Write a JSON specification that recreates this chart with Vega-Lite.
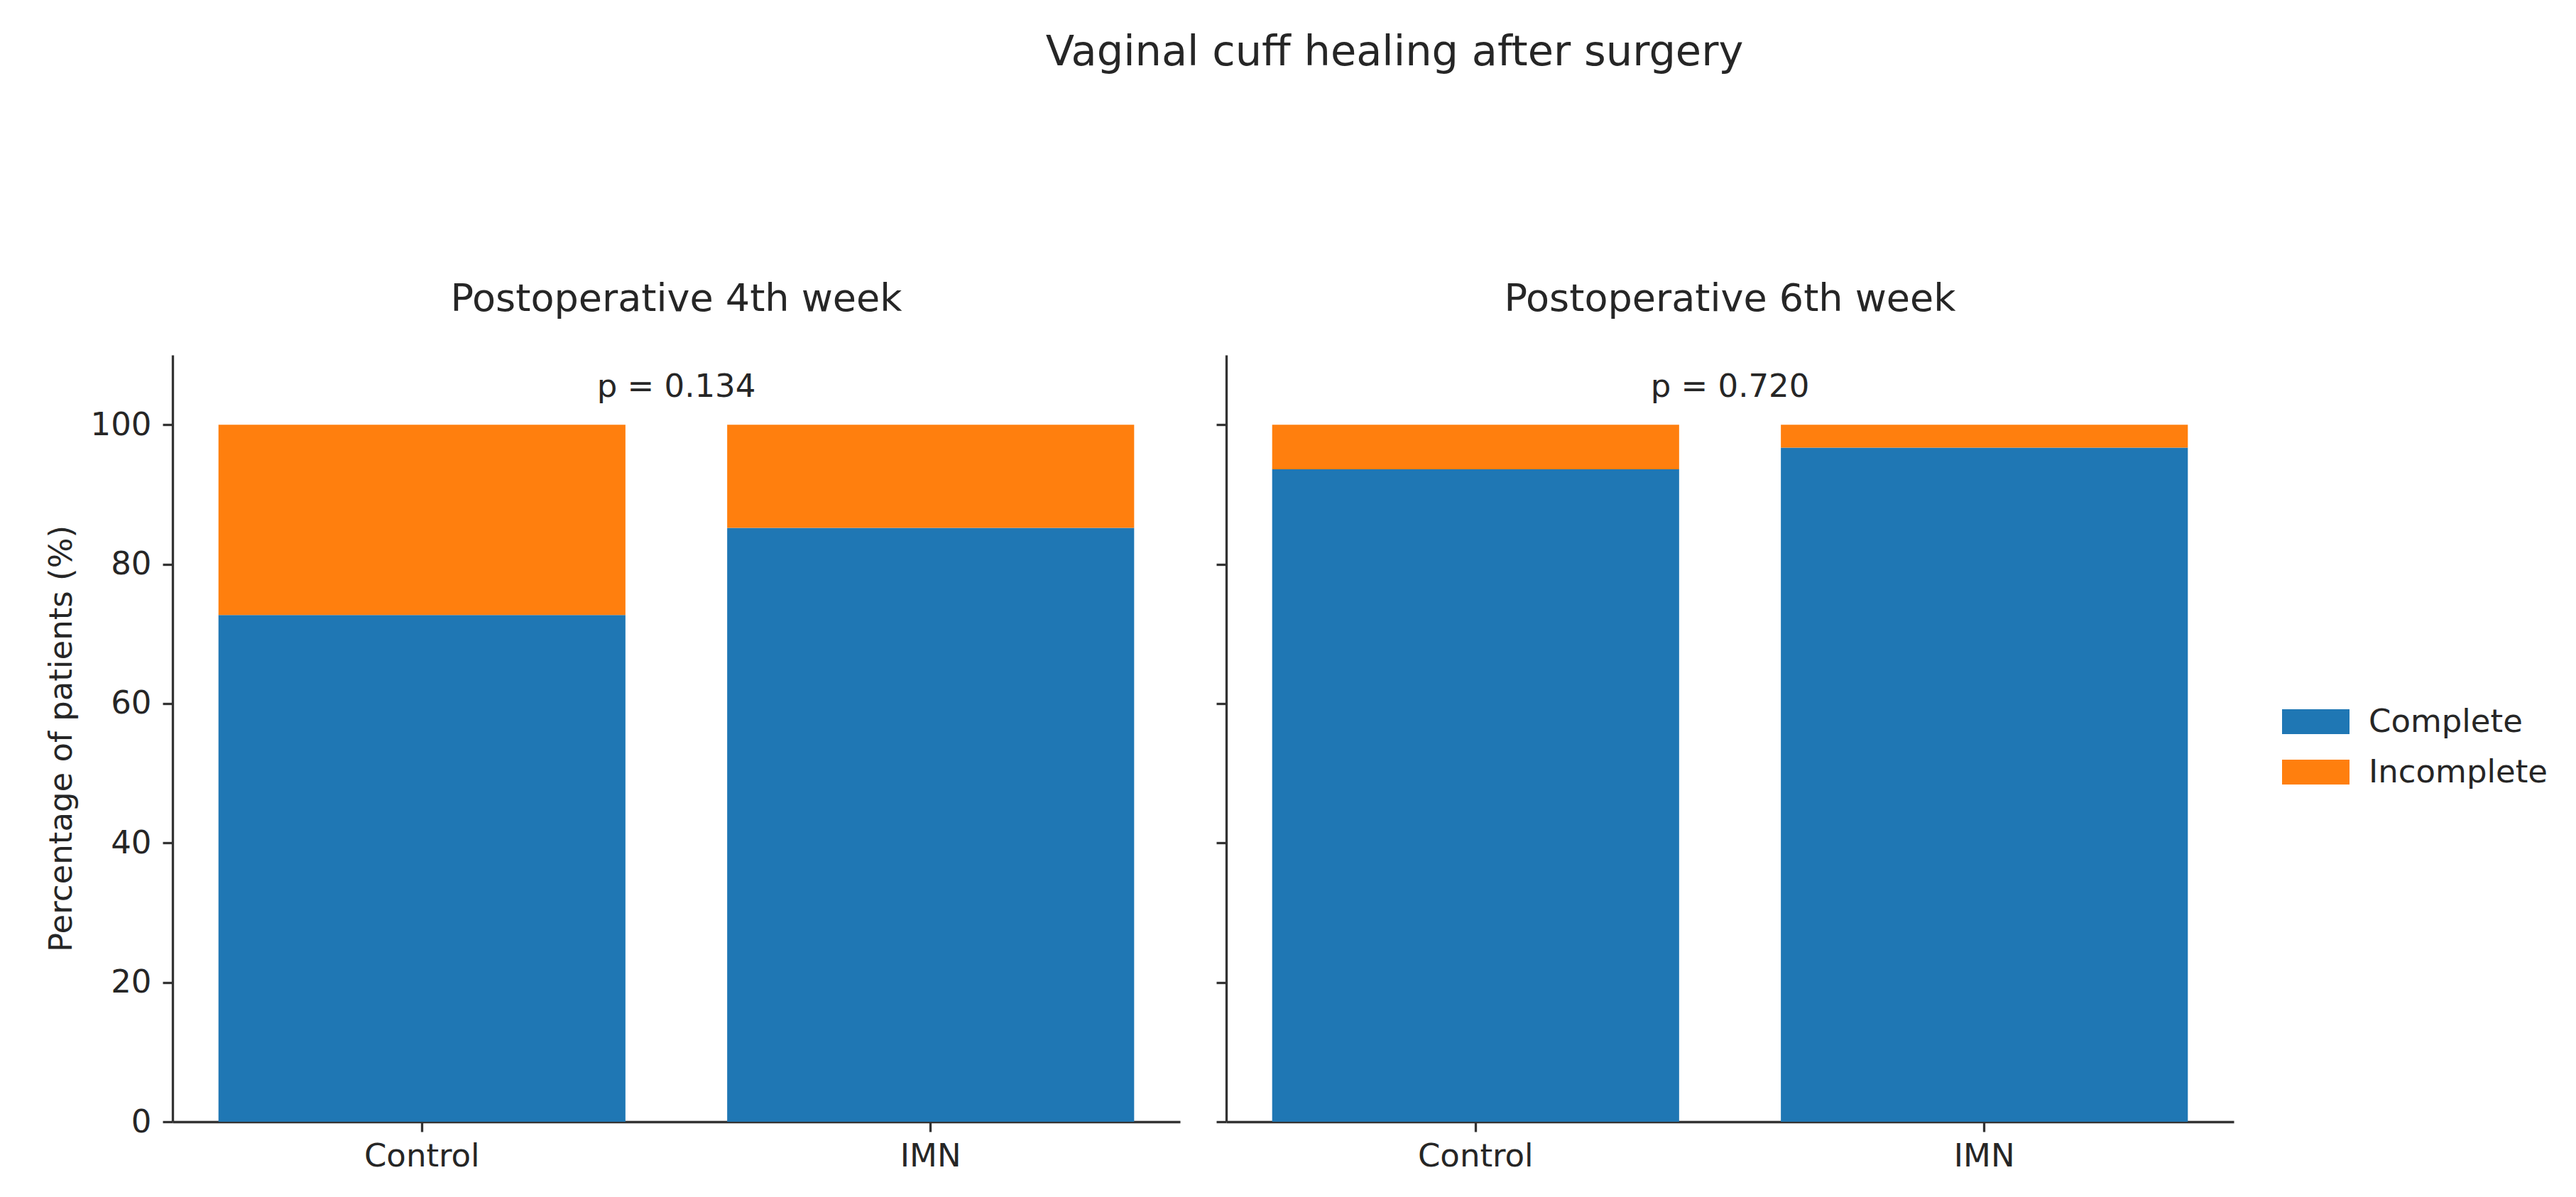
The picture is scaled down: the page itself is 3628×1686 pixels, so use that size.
{
  "$schema": "https://vega.github.io/schema/vega-lite/v6.json",
  "background": "white",
  "padding": {"left": 64, "top": 45, "right": 0, "bottom": 20},
  "title": {
    "text": "Vaginal cuff healing after surgery",
    "fontSize": 59,
    "font": "DejaVu Sans",
    "fontWeight": "normal",
    "color": "#262626",
    "anchor": "middle",
    "baseline": "alphabetic",
    "offset": 244,
    "dx": 138
  },
  "datasets": {
    "bars": [
      {"week": "Postoperative 4th week", "group": "Control", "status": "Complete", "pct": 72.7},
      {"week": "Postoperative 4th week", "group": "Control", "status": "Incomplete", "pct": 27.3},
      {"week": "Postoperative 4th week", "group": "IMN", "status": "Complete", "pct": 85.2},
      {"week": "Postoperative 4th week", "group": "IMN", "status": "Incomplete", "pct": 14.8},
      {"week": "Postoperative 6th week", "group": "Control", "status": "Complete", "pct": 93.6},
      {"week": "Postoperative 6th week", "group": "Control", "status": "Incomplete", "pct": 6.4},
      {"week": "Postoperative 6th week", "group": "IMN", "status": "Complete", "pct": 96.7},
      {"week": "Postoperative 6th week", "group": "IMN", "status": "Incomplete", "pct": 3.3}
    ],
    "pvals": [
      {"week": "Postoperative 4th week", "label": "p = 0.134"},
      {"week": "Postoperative 6th week", "label": "p = 0.720"}
    ]
  },
  "spacing": 65,
  "bounds": "flush",
  "hconcat": [
    {
      "width": 1419,
      "height": 1080,
      "title": {"text": "Postoperative 4th week"},
      "layer": [
        {
          "data": {"name": "bars"},
          "transform": [{"filter": "datum.week === 'Postoperative 4th week'"}],
          "mark": {"type": "bar"},
          "encoding": {
            "x": {"field": "group", "type": "nominal", "sort": ["Control", "IMN"],
                  "scale": {"paddingInner": 0.2, "paddingOuter": 0.0903}},
            "y": {"field": "pct", "type": "quantitative", "stack": "zero",
                  "scale": {"domain": [0, 110], "nice": false},
                  "axis": {"values": [0, 20, 40, 60, 80, 100], "title": "Percentage of patients (%)"}},
            "color": {"field": "status", "type": "nominal",
                      "scale": {"domain": ["Complete", "Incomplete"], "range": ["#1f77b4", "#ff7f0e"]},
                      "legend": {"title": null}},
            "order": {"field": "status", "sort": "ascending"}
          }
        },
        {
          "data": {"name": "pvals"},
          "transform": [{"filter": "datum.week === 'Postoperative 4th week'"}],
          "mark": {"type": "text", "font": "DejaVu Sans", "fontSize": 45, "color": "#262626", "baseline": "alphabetic", "align": "center"},
          "encoding": {
            "x": {"datum": "Control", "type": "nominal", "bandPosition": 1.125},
            "y": {"datum": 104, "type": "quantitative"},
            "text": {"field": "label"}
          }
        }
      ]
    },
    {
      "width": 1419,
      "height": 1080,
      "title": {"text": "Postoperative 6th week"},
      "layer": [
        {
          "data": {"name": "bars"},
          "transform": [{"filter": "datum.week === 'Postoperative 6th week'"}],
          "mark": {"type": "bar"},
          "encoding": {
            "x": {"field": "group", "type": "nominal", "sort": ["Control", "IMN"],
                  "scale": {"paddingInner": 0.2, "paddingOuter": 0.0903}},
            "y": {"field": "pct", "type": "quantitative", "stack": "zero",
                  "scale": {"domain": [0, 110], "nice": false},
                  "axis": {"values": [0, 20, 40, 60, 80, 100], "labels": false, "title": null}},
            "color": {"field": "status", "type": "nominal",
                      "scale": {"domain": ["Complete", "Incomplete"], "range": ["#1f77b4", "#ff7f0e"]},
                      "legend": {"title": null}},
            "order": {"field": "status", "sort": "ascending"}
          }
        },
        {
          "data": {"name": "pvals"},
          "transform": [{"filter": "datum.week === 'Postoperative 6th week'"}],
          "mark": {"type": "text", "font": "DejaVu Sans", "fontSize": 45, "color": "#262626", "baseline": "alphabetic", "align": "center"},
          "encoding": {
            "x": {"datum": "Control", "type": "nominal", "bandPosition": 1.125},
            "y": {"datum": 104, "type": "quantitative"},
            "text": {"field": "label"}
          }
        }
      ]
    }
  ],
  "config": {
    "view": {"stroke": null},
    "font": "DejaVu Sans",
    "title": {"font": "DejaVu Sans", "fontSize": 54, "fontWeight": "normal", "color": "#262626", "baseline": "alphabetic", "offset": 51, "anchor": "middle"},
    "axis": {
      "labelFont": "DejaVu Sans", "labelFontSize": 45, "labelColor": "#262626",
      "tickColor": "#333333", "domainColor": "#333333", "tickSize": 14, "tickWidth": 3.3, "domainWidth": 3.3,
      "grid": false, "titleFont": "DejaVu Sans", "titleFontSize": 45, "titleFontWeight": "normal", "titleColor": "#262626"
    },
    "axisX": {"labelAngle": 0, "labelPadding": 12, "title": null},
    "axisY": {"labelPadding": 16, "titlePadding": 18},
    "legend": {
      "orient": "right", "offset": 68, "padding": 0,
      "labelFont": "DejaVu Sans", "labelFontSize": 45, "labelColor": "#262626", "labelOffset": 27, "labelLimit": 0,
      "symbolType": "M-1,-0.37H1V0.37H-1Z", "symbolSize": 9025, "symbolStrokeWidth": 0, "symbolOpacity": 1,
      "rowPadding": -9,
      "layout": {"right": {"anchor": "middle"}}
    }
  }
}
